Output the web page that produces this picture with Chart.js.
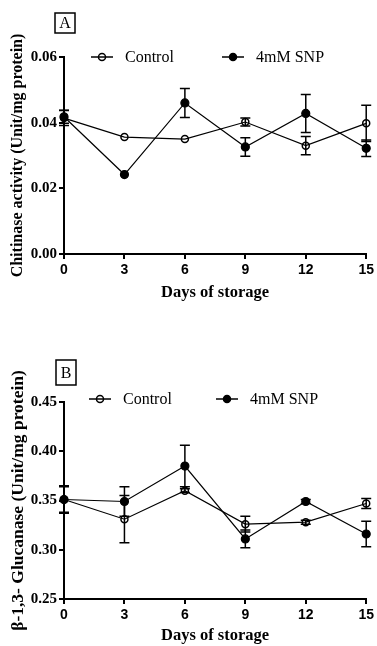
<!DOCTYPE html>
<html>
<head>
<meta charset="utf-8">
<script src="https://cdn.jsdelivr.net/npm/chart.js@4/dist/chart.umd.min.js"></script>
<style>
  html, body { margin: 0; padding: 0; background: #fff; }
  .box { position: absolute; left: 0; width: 377px; }
</style>
</head>
<body>
<div class="box" style="top:0;height:310px"><canvas id="chartA" width="377" height="310"></canvas></div>
<div class="box" style="top:320px;height:326px"><canvas id="chartB" width="377" height="326"></canvas></div>
<script>
const days = [0, 3, 6, 9, 12, 15];

const chitControl = [0.0414, 0.0356, 0.0350, 0.0402, 0.0330, 0.0398];
const chitControlErr = [0.0023, 0, 0, 0.0012, 0.0028, 0.0055];
const chitSNP = [0.0418, 0.0242, 0.0460, 0.0326, 0.0428, 0.0322];
const chitSNPErr = [0.0020, 0, 0.0044, 0.0028, 0.0058, 0.0025];

const glucControl = [0.351, 0.331, 0.360, 0.326, 0.328, 0.347];
const glucControlErr = [0.014, 0.024, 0.002, 0.008, 0.002, 0.005];
const glucSNP = [0.351, 0.349, 0.385, 0.311, 0.349, 0.316];
const glucSNPErr = [0.013, 0.015, 0.021, 0.009, 0.002, 0.013];

const seriesNames = ["Control", "4mM SNP"];

const serif = "'Liberation Serif', 'Times New Roman', serif";
const sans = "'Liberation Sans', Arial, sans-serif";

// error bars from dataset.errors, drawn through the scales
const errorBars = {
  id: "errorBars",
  afterDatasetsDraw(chart) {
    const ctx = chart.ctx;
    const y = chart.scales.y;
    ctx.save();
    ctx.strokeStyle = "#000";
    ctx.lineWidth = 1.5;
    chart.data.datasets.forEach((ds, i) => {
      const meta = chart.getDatasetMeta(i);
      meta.data.forEach((pt, j) => {
        const e = ds.errors[j];
        if (!e) return;
        const v = ds.data[j].y;
        const top = y.getPixelForValue(v + e);
        const bot = y.getPixelForValue(v - e);
        ctx.beginPath();
        ctx.moveTo(pt.x, top); ctx.lineTo(pt.x, bot);
        ctx.moveTo(pt.x - 5, top); ctx.lineTo(pt.x + 5, top);
        ctx.moveTo(pt.x - 5, bot); ctx.lineTo(pt.x + 5, bot);
        ctx.stroke();
      });
    });
    ctx.restore();
  }
};

// panel letter and legend placed over the top of the plot
const overlay = {
  id: "overlay",
  afterDraw(chart, args, opts) {
    const ctx = chart.ctx;
    ctx.save();
    ctx.strokeStyle = "#000";
    ctx.lineWidth = 1.5;
    const b = opts.box;
    ctx.strokeRect(b.x, b.y, b.w, b.h);
    ctx.fillStyle = "#000";
    ctx.font = "16px " + serif;
    ctx.textAlign = "center";
    ctx.textBaseline = "middle";
    ctx.fillText(opts.letter, b.x + b.w / 2, b.y + b.h / 2 + 1);

    const ly = opts.legendY;
    opts.legendX.forEach((lx, i) => {
      ctx.lineWidth = 1.5;
      ctx.beginPath();
      ctx.moveTo(lx - 11, ly); ctx.lineTo(lx + 11, ly);
      ctx.stroke();
      ctx.beginPath();
      ctx.arc(lx, ly, 3.5, 0, Math.PI * 2);
      if (i === 1) ctx.fill();
      ctx.stroke();
      ctx.font = "16px " + serif;
      ctx.textAlign = "left";
      ctx.fillText(seriesNames[i], lx + 23, ly + 1);
    });
    ctx.restore();
  }
};

function makeChart(el, ctrl, ctrlErr, snp, snpErr, yMin, yMax, step, yTitle, yTitleSize, chartTop, xH, xTitlePad, over) {
  const pts = (arr) => arr.map((v, i) => ({ x: days[i], y: v }));
  return new Chart(el, {
    type: "line",
    data: {
      datasets: [
        {
          label: seriesNames[0],
          data: pts(ctrl),
          errors: ctrlErr,
          borderColor: "#000",
          borderWidth: 1.2,
          pointBackgroundColor: "rgba(0,0,0,0)",
          pointBorderColor: "#000",
          pointBorderWidth: 1.5,
          pointRadius: 3.5,
          tension: 0,
          clip: false,
        },
        {
          label: seriesNames[1],
          data: pts(snp),
          errors: snpErr,
          borderColor: "#000",
          borderWidth: 1.2,
          pointBackgroundColor: "#000",
          pointBorderColor: "#000",
          pointRadius: 4,
          tension: 0,
          clip: false,
        },
      ],
    },
    options: {
      responsive: false,
      animation: false,
      layout: { padding: { left: 0, right: 10, top: chartTop, bottom: 0 } },
      plugins: {
        legend: { display: false },
        tooltip: { enabled: false },
        overlay: over,
      },
      scales: {
        x: {
          type: "linear",
          min: 0,
          max: 15,
          ticks: { stepSize: 3, color: "#000", padding: 3, font: { family: sans, size: 14, weight: "bold" } },
          grid: { drawOnChartArea: false, drawTicks: true, tickLength: 5, color: "#000", lineWidth: 2 },
          border: { display: true, color: "#000", width: 2 },
          title: { display: true, text: "Days of storage", color: "#000", padding: { top: xTitlePad, bottom: xTitlePad }, font: { family: serif, size: 16.5, weight: "bold" } },
          afterFit: (s) => { s.height = xH; },
        },
        y: {
          min: yMin,
          max: yMax,
          ticks: { stepSize: step, color: "#000", padding: 2, callback: (v) => v.toFixed(2), font: { family: serif, size: 15, weight: "bold" } },
          grid: { drawOnChartArea: false, drawTicks: true, tickLength: 5, color: "#000", lineWidth: 2 },
          border: { display: true, color: "#000", width: 2 },
          title: { display: true, text: yTitle, color: "#000", padding: { top: 8, bottom: 0 }, font: { family: serif, size: yTitleSize, weight: "bold" } },
          afterFit: (s) => { s.width = 64; },
        },
      },
    },
    plugins: [errorBars, overlay],
  });
}

makeChart(document.getElementById("chartA"), chitControl, chitControlErr, chitSNP, chitSNPErr,
  0, 0.06, 0.02, "Chitinase activity (Unit/mg protein)", 16, 57, 56, 7,
  { letter: "A", box: { x: 55, y: 13, w: 20, h: 20 }, legendY: 57, legendX: [102, 233] });

makeChart(document.getElementById("chartB"), glucControl, glucControlErr, glucSNP, glucSNPErr,
  0.25, 0.45, 0.05, "β-1,3- Glucanase (Unit/mg protein)", 17.5, 82, 47, 0,
  { letter: "B", box: { x: 56, y: 40, w: 20, h: 25 }, legendY: 79, legendX: [100, 227] });
</script>
</body>
</html>
